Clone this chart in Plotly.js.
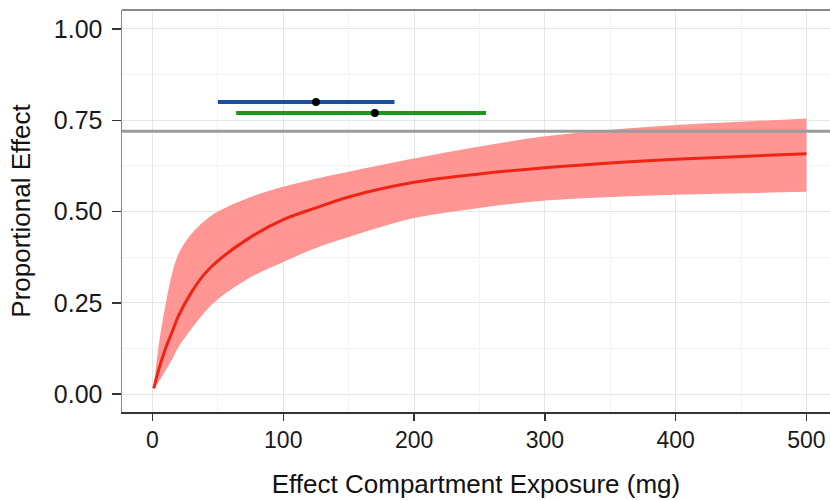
<!DOCTYPE html>
<html>
<head>
<meta charset="utf-8">
<script src="https://cdn.plot.ly/plotly-3.0.1.min.js"></script>
<style>html,body{margin:0;padding:0;background:#fff;}#chart{width:830px;height:500px;}</style>
</head>
<body>
<div id="chart"></div>
<script>
// Exposure grid (mg)
const exposure = [1, 5, 10, 15, 20, 30, 40, 50, 75, 100, 125, 150, 200, 250, 300, 350, 400, 450, 500];
// Median proportional effect
const effectMedian = [0.016, 0.07, 0.125, 0.17, 0.215, 0.28, 0.33, 0.365, 0.43, 0.478, 0.51, 0.54, 0.58, 0.603, 0.62, 0.633, 0.643, 0.651, 0.658];
// Prediction interval
const effectLower = [0.012, 0.035, 0.065, 0.095, 0.13, 0.18, 0.225, 0.26, 0.32, 0.362, 0.40, 0.43, 0.482, 0.51, 0.53, 0.54, 0.546, 0.55, 0.554];
const effectUpper = [0.02, 0.14, 0.245, 0.33, 0.385, 0.44, 0.475, 0.50, 0.54, 0.568, 0.59, 0.609, 0.645, 0.678, 0.706, 0.724, 0.737, 0.746, 0.755];
// Target effect level
const targetEffect = 0.72;
// Exposure ranges (low, point, high) at their effect levels
const rangeBlue = {low: 50, mid: 125, high: 185, y: 0.80};
const rangeGreen = {low: 64, mid: 170, high: 255, y: 0.77};
// Tick labels
const xTicks = [0, 100, 200, 300, 400, 500];
const xTickText = ['0', '100', '200', '300', '400', '500'];
const yTicks = [0, 0.25, 0.5, 0.75, 1.0];
const yTickText = ['0.00', '0.25', '0.50', '0.75', '1.00'];

const font = 'Liberation Sans, Arial, Helvetica, sans-serif';

const traces = [
  {x: exposure, y: effectLower, mode: 'lines', line: {width: 0, color: 'rgba(0,0,0,0)', shape: 'spline', smoothing: 1}, hoverinfo: 'skip', showlegend: false},
  {x: exposure, y: effectUpper, mode: 'lines', line: {width: 0, color: 'rgba(0,0,0,0)', shape: 'spline', smoothing: 1}, fill: 'tonexty', fillcolor: 'rgb(255,150,148)', showlegend: false},
  {x: exposure, y: effectMedian, mode: 'lines', line: {width: 3, color: 'rgb(238,36,20)', shape: 'spline', smoothing: 1}, showlegend: false},
  {x: [rangeBlue.low, rangeBlue.high], y: [rangeBlue.y, rangeBlue.y], mode: 'lines', line: {width: 4, color: 'rgb(28,76,158)'}, showlegend: false},
  {x: [rangeGreen.low, rangeGreen.high], y: [rangeGreen.y, rangeGreen.y], mode: 'lines', line: {width: 4, color: 'rgb(30,150,30)'}, showlegend: false},
  {x: [rangeBlue.mid, rangeGreen.mid], y: [rangeBlue.y, rangeGreen.y], mode: 'markers', marker: {size: 8, color: '#000'}, showlegend: false}
];

const layout = {
  width: 830, height: 500,
  margin: {l: 122, r: 0, t: 10, b: 88},
  paper_bgcolor: '#fff', plot_bgcolor: '#fff',
  font: {family: font, color: '#1a1a1a'},
  xaxis: {
    range: [-23.3, 518],
    tickvals: xTicks, ticktext: xTickText,
    ticks: 'outside', ticklen: 7, tickwidth: 1.5, tickcolor: '#333',
    tickfont: {size: 23, family: font, color: '#1a1a1a'},
    showgrid: true, gridcolor: '#e6e6e6', gridwidth: 1,
    minor: {dtick: 50, tick0: 0, showgrid: true, gridcolor: '#f3f3f3', gridwidth: 1},
    showline: true, linecolor: '#333', linewidth: 1.5,
    zeroline: false,
    title: {text: 'Effect Compartment Exposure (mg)', font: {size: 26, family: font, color: '#111'}, standoff: 22}
  },
  yaxis: {
    range: [-0.049, 1.052],
    tickvals: yTicks, ticktext: yTickText,
    ticks: 'outside', ticklen: 9, tickwidth: 1.5, tickcolor: '#333',
    ticklabelstandoff: 4,
    tickfont: {size: 25, family: font, color: '#1a1a1a'},
    showgrid: true, gridcolor: '#e6e6e6', gridwidth: 1,
    minor: {dtick: 0.125, tick0: 0, showgrid: true, gridcolor: '#f3f3f3', gridwidth: 1},
    showline: true, linecolor: '#888', linewidth: 1.5,
    zeroline: false,
    title: {text: 'Proportional Effect', font: {size: 26, family: font, color: '#111'}, standoff: 15}
  },
  shapes: [
    {type: 'line', xref: 'paper', yref: 'y', x0: 0, x1: 1, y0: targetEffect, y1: targetEffect, line: {color: 'rgb(155,155,155)', width: 3}, layer: 'above'},
    {type: 'line', xref: 'paper', yref: 'paper', x0: 0, x1: 1, y0: 1, y1: 1, line: {color: '#888', width: 2}, layer: 'above'}
  ]
};

Plotly.newPlot('chart', traces, layout, {displayModeBar: false, staticPlot: true});
</script>
</body>
</html>
